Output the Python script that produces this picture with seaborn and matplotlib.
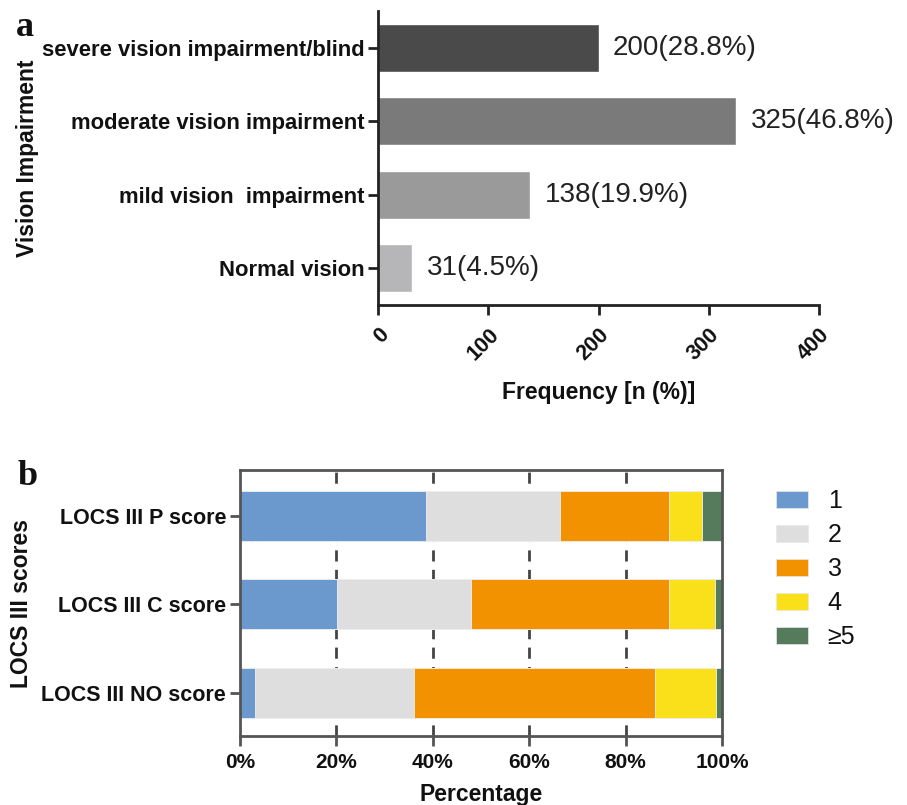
import numpy as np
import pandas as pd
import matplotlib
matplotlib.use("Agg")
import matplotlib.pyplot as plt
import seaborn as sns
from matplotlib.patches import Patch

# ---- panel a: vision impairment ----
vi_categories = ["severe vision impairment/blind", "moderate vision impairment",
                 "mild vision  impairment", "Normal vision"]
vi_counts = [200, 325, 138, 31]
vi_labels = ["200(28.8%)", "325(46.8%)", "138(19.9%)", "31(4.5%)"]
vi_colors = ["#4a4a4a", "#7a7a7a", "#9a9a9a", "#b6b6b8"]
vi_xticks = [0, 100, 200, 300, 400]

# ---- panel b: LOCS III score distribution (%) ----
locs_categories = ["LOCS III P score", "LOCS III C score", "LOCS III NO score"]
grade_names = ["1", "2", "3", "4", "\u22655"]
grade_1 = [38.6, 20.2, 3.1]
grade_2 = [27.7, 27.8, 33.1]
grade_3 = [22.7, 41.0, 49.9]
grade_4 = [6.8, 9.5, 12.6]
grade_5 = [4.2, 1.5, 1.3]
grade_colors = ["#6b98cd", "#dedede", "#f39200", "#f9e01a", "#557a5c"]
pct_ticks = [0, 20, 40, 60, 80, 100]

sns.set_theme(style="white")
plt.rcParams["font.family"] = ["Liberation Sans", "DejaVu Sans"]
INK = "#111111"
plt.rcParams.update({"text.color": INK, "axes.labelcolor": INK,
                     "xtick.color": INK, "ytick.color": INK})

fig = plt.figure(figsize=(9.07, 8.05), dpi=100)

# ================= panel a =================
ax1 = fig.add_axes([0.4168, 0.6211, 0.4862, 0.3652])
df_a = pd.DataFrame({"category": vi_categories, "count": vi_counts})
sns.barplot(data=df_a, y="category", x="count", hue="category",
            palette=vi_colors, orient="h", width=0.65, legend=False,
            saturation=1, ax=ax1)
ax1.set_xlim(0, 400)
ax1.set_ylim(3.5, -0.5)
ax1.set_xticks(vi_xticks)
ax1.set_xticklabels([str(t) for t in vi_xticks], rotation=45, ha="right",
                    va="top", rotation_mode="anchor", fontsize=15.5, fontweight="bold")
ax1.tick_params(axis="y", labelsize=15.8, length=7, width=2, direction="out",
                left=True, color="#222222", pad=3)
ax1.tick_params(axis="x", length=7, width=2, direction="out", bottom=True,
                color="#222222", pad=7)
for lbl in ax1.get_yticklabels():
    lbl.set_fontweight("bold")
ax1.set_xlabel("Frequency [n (%)]", fontsize=16.5, fontweight="bold", labelpad=12)
ax1.set_ylabel("Vision Impairment", fontsize=16.5, fontweight="bold")
ax1.yaxis.set_label_coords(-0.768, 0.5)
for s in ["top", "right"]:
    ax1.spines[s].set_visible(False)
for s in ["left", "bottom"]:
    ax1.spines[s].set_linewidth(2)
    ax1.spines[s].set_color("#222222")
for i, (v, txt) in enumerate(zip(vi_counts, vi_labels)):
    ax1.text(v + 13, i, txt, va="center", ha="left", fontsize=20, color="#222222")

fig.text(0.017, 0.955, "a", fontsize=26, fontweight="bold",
         family=["Liberation Serif", "DejaVu Serif"], ha="left", va="baseline")

# ================= panel b =================
ax2 = fig.add_axes([0.2646, 0.0857, 0.5314, 0.3304])
grades = [grade_1, grade_2, grade_3, grade_4, grade_5]
cum = np.cumsum(np.array(grades), axis=0)

for g in range(20, 100, 20):
    ax2.axvline(g, color="#444444", linestyle=(0, (4, 3)), linewidth=2, zorder=0)

# stacked bars: draw cumulative totals from the outermost segment inwards
for k in range(len(grades) - 1, -1, -1):
    df_b = pd.DataFrame({"score": locs_categories, "value": cum[k]})
    sns.barplot(data=df_b, y="score", x="value", orient="h", color=grade_colors[k],
                saturation=1, width=0.565, edgecolor="#f0f0f0", linewidth=0.6,
                ax=ax2, zorder=2)

ax2.set_xlim(0, 100)
ax2.set_ylim(2.49, -0.52)
ax2.set_xticks(pct_ticks)
ax2.set_xticklabels([f"{t}%" for t in pct_ticks], fontsize=15, fontweight="bold")
ax2.tick_params(axis="y", labelsize=15.5, length=7, width=2, direction="out",
                left=True, color="#555555", pad=3)
ax2.tick_params(axis="x", length=7, width=2, direction="out", bottom=True,
                color="#555555", pad=5)
for lbl in ax2.get_yticklabels():
    lbl.set_fontweight("bold")
ax2.set_xlabel("Percentage", fontsize=16.5, fontweight="bold", labelpad=8)
ax2.set_ylabel("LOCS III scores", fontsize=16.5, fontweight="bold", labelpad=6)
for s in ax2.spines.values():
    s.set_visible(True)
    s.set_linewidth(2)
    s.set_color("#555555")

handles = [Patch(facecolor=c, edgecolor="#e8e8e8", linewidth=0.5) for c in grade_colors]
fig.legend(handles, grade_names, loc="upper left", bbox_to_anchor=(0.845, 0.405),
           frameon=False, fontsize=18, handlelength=1.25, handleheight=0.65,
           labelspacing=0.40, handletextpad=0.8, borderaxespad=0)

fig.text(0.019, 0.398, "b", fontsize=26, fontweight="bold",
         family=["Liberation Serif", "DejaVu Serif"], ha="left", va="baseline")

fig.savefig("out.png", dpi=100, facecolor="white")
